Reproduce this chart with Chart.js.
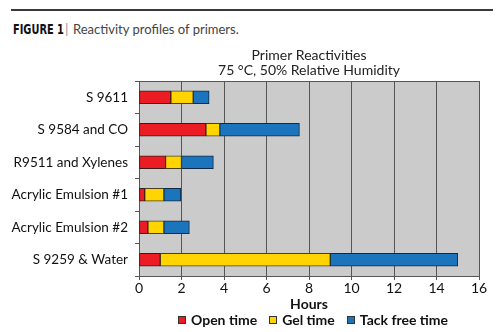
<!DOCTYPE html>
<html>
<head>
<meta charset="utf-8">
<script src="https://cdn.jsdelivr.net/npm/chart.js@4/dist/chart.umd.min.js"></script>
<style>
  html, body { margin: 0; padding: 0; background: #fff; }
  #wrap { position: relative; width: 500px; height: 332px; }
  #rule { position: absolute; left: 11px; top: 9px; width: 482px; height: 0; border-top: 2px solid #3a3a3a; }
  #fig { position: absolute; left: 13px; top: 21px; font: bold 14px "DejaVu Sans Condensed", "Liberation Sans", sans-serif; color: #111; transform: scaleX(0.78); transform-origin: left top; white-space: nowrap; }
  #sep { position: absolute; left: 65px; top: 20px; font: 14px "Lato", sans-serif; color: #999; }
  #caption { position: absolute; left: 73px; top: 21px; font: 13px "Lato", "Open Sans", sans-serif; color: #444; white-space: nowrap; }
  canvas { position: absolute; left: 0; top: 0; }
  #legend { position: absolute; left: 178px; top: 311px; display: flex; gap: 12px; font: bold 14px "Lato", "Open Sans", sans-serif; color: #111; white-space: nowrap; }
  #legend .item { display: flex; align-items: center; }
  #legend .box { width: 6px; height: 6px; border: 1px solid #333; margin-right: 5px; }
</style>
</head>
<body>
<div id="wrap">
  <div id="rule"></div>
  <div id="fig">FIGURE 1</div>
  <div id="sep">|</div>
  <div id="caption">Reactivity profiles of primers.</div>
  <canvas id="reactChart" width="500" height="332"></canvas>
  <div id="legend"></div>
</div>
<script>
// primers (top to bottom)
const primers = ['S 9611', 'S 9584 and CO', 'R9511 and Xylenes', 'Acrylic Emulsion #1', 'Acrylic Emulsion #2', 'S 9259 & Water'];
// hours spent in each phase
const openTime = [1.5, 3.15, 1.25, 0.27, 0.42, 1.0];
const gelTime = [1.05, 0.65, 0.75, 0.9, 0.75, 8.0];
const tackFreeTime = [0.75, 3.75, 1.5, 0.8, 1.2, 6.0];
const hourTicks = [0, 2, 4, 6, 8, 10, 12, 14, 16];
const titleLines = ['Primer Reactivities', '75 °C, 50% Relative Humidity'];

const FONT = '"Lato", "Open Sans", sans-serif';

// gray plot background + frame, and the two-line title centred on the plot
const plotDecor = {
    id: 'plotDecor',
    beforeDraw(chart) {
        const { ctx, chartArea: a } = chart;
        ctx.save();
        ctx.fillStyle = '#cccbcb';
        ctx.fillRect(a.left, a.top, a.right - a.left, a.bottom - a.top);
        ctx.restore();
    },
    afterDraw(chart) {
        const { ctx, chartArea: a } = chart;
        ctx.save();
        ctx.strokeStyle = '#555';
        ctx.lineWidth = 1;
        ctx.beginPath();
        ctx.moveTo(a.left, a.top + 0.5);
        ctx.lineTo(a.right, a.top + 0.5);
        ctx.stroke();
        ctx.fillStyle = '#222';
        ctx.font = '14px ' + FONT;
        ctx.textAlign = 'center';
        ctx.textBaseline = 'middle';
        const cx = (a.left + a.right) / 2;
        titleLines.forEach((t, i) => ctx.fillText(t, cx, 55 + i * 15.5));
        ctx.restore();
    }
};

const chart = new Chart(document.getElementById('reactChart'), {
    type: 'bar',
    data: {
        labels: primers,
        datasets: [{
            label: 'Open time',
            data: openTime,
            backgroundColor: '#ec1c24',
            borderColor: '#3a1a1a'
        }, {
            label: 'Gel time',
            data: gelTime,
            backgroundColor: '#ffd400',
            borderColor: '#4a4020'
        }, {
            label: 'Tack free time',
            data: tackFreeTime,
            backgroundColor: '#1c75bc',
            borderColor: '#102a44'
        }]
    },
    options: {
        indexAxis: 'y',
        responsive: false,
        animation: false,
        barThickness: 13,
        borderWidth: 1,
        borderSkipped: false,
        layout: { padding: { top: 81, right: 21, left: 0, bottom: 19 } },
        plugins: {
            title: { display: false },
            tooltip: { enabled: false },
            legend: { display: false }
        },
        scales: {
            x: {
                stacked: true,
                min: 0,
                max: 16,
                afterBuildTicks(scale) {
                    scale.ticks = hourTicks.map(v => ({ value: v }));
                },
                afterFit(scale) { scale.height = 37; },
                grid: { color: '#555', tickLength: 4, lineWidth: 1 },
                border: { color: '#555' },
                ticks: { color: '#111', padding: 0, font: { family: FONT, size: 14 } },
                title: {
                    display: true,
                    text: 'Hours',
                    color: '#111',
                    padding: { top: 0, bottom: 0 },
                    font: { family: FONT, size: 14, weight: 'bold' }
                }
            },
            y: {
                stacked: true,
                afterFit(scale) { scale.width = 139; },
                grid: { drawOnChartArea: false, color: '#555', tickLength: 4 },
                border: { color: '#555' },
                ticks: { color: '#111', padding: 7, font: { family: FONT, size: 13.5 } }
            }
        }
    },
    plugins: [plotDecor]
});

// legend below the axis title, built from the chart's datasets
const legendEl = document.getElementById('legend');
chart.data.datasets.forEach(ds => {
    const item = document.createElement('div');
    item.className = 'item';
    const box = document.createElement('span');
    box.className = 'box';
    box.style.background = ds.backgroundColor;
    const txt = document.createElement('span');
    txt.textContent = ds.label;
    item.appendChild(box);
    item.appendChild(txt);
    legendEl.appendChild(item);
});
</script>
</body>
</html>
